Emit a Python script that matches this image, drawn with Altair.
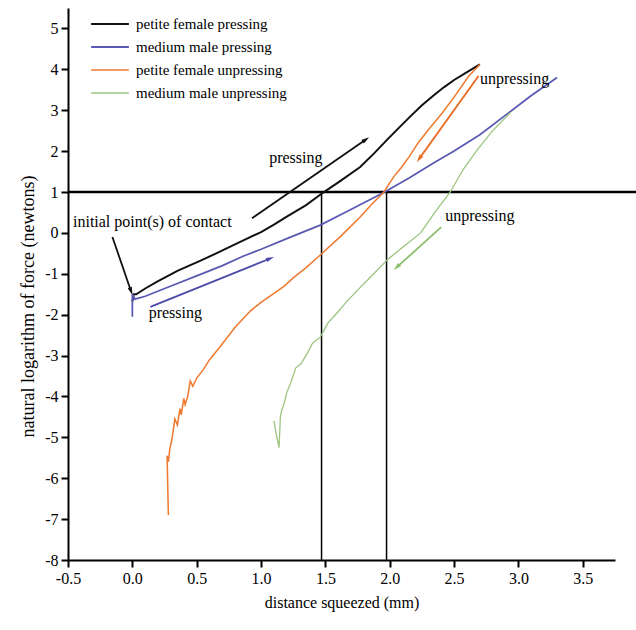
import math
import altair as alt
import pandas as pd

# ---------------- data ----------------
series_names = ["petite female pressing", "medium male pressing",
                "petite female unpressing", "medium male unpressing"]
series_colors = ["#111111", "#5a5ab4", "#ee7a30", "#9cc47e"]
series_widths = [2.0, 1.3, 1.4, 1.2]

pf_press_x = [0.0, 0.01, 0.03, 0.1, 0.2, 0.35, 0.53, 0.68, 0.85, 1.0, 1.1, 1.2, 1.35, 1.48,
              1.62, 1.77, 1.88, 1.98, 2.08, 2.16, 2.25, 2.34, 2.42, 2.5, 2.6, 2.7]
pf_press_y = [-1.68, -1.5, -1.5, -1.36, -1.18, -0.93, -0.68, -0.46, -0.2, 0.02, 0.2, 0.4, 0.68, 0.98,
              1.28, 1.61, 1.95, 2.28, 2.6, 2.85, 3.12, 3.36, 3.56, 3.74, 3.93, 4.12]

mm_press_x = [0.0, 0.0, 0.02, 0.1, 0.3, 0.5, 0.7, 0.86, 1.0, 1.2, 1.46, 1.69, 1.95, 2.15,
              2.34, 2.5, 2.7, 2.9, 3.1, 3.3]
mm_press_y = [-2.05, -1.5, -1.62, -1.55, -1.3, -1.05, -0.8, -0.57, -0.4, -0.14, 0.19, 0.56, 0.98, 1.34,
              1.71, 2.0, 2.4, 2.88, 3.36, 3.8]

pf_unpress_x = [2.70, 2.61, 2.50, 2.40, 2.30, 2.22, 2.15, 2.09, 2.03, 1.95, 1.86, 1.77, 1.62, 1.46,
                1.35, 1.25, 1.18, 1.0, 0.92, 0.8, 0.68, 0.6, 0.55, 0.5, 0.47, 0.45, 0.43, 0.41,
                0.40, 0.38, 0.37, 0.35, 0.33, 0.31, 0.29, 0.28, 0.27, 0.275, 0.28]
pf_unpress_y = [4.12, 3.82, 3.32, 2.9, 2.52, 2.2, 1.86, 1.6, 1.37, 0.98, 0.7, 0.39, -0.08, -0.54,
                -0.85, -1.1, -1.3, -1.7, -1.9, -2.3, -2.79, -3.1, -3.35, -3.55, -3.75, -3.62, -4.0, -4.2,
                -4.05, -4.45, -4.3, -4.7, -4.55, -5.0, -5.3, -5.6, -5.45, -6.2, -6.9]

mm_unpress_x = [2.94, 2.80, 2.68, 2.57, 2.47, 2.35, 2.24, 2.10, 1.98, 1.86, 1.75, 1.66, 1.59,
                1.52, 1.46, 1.40, 1.36, 1.31, 1.27, 1.23, 1.20, 1.18, 1.16, 1.15, 1.14, 1.12, 1.10]
mm_unpress_y = [2.95, 2.5, 2.03, 1.55, 1.0, 0.5, 0.0, -0.35, -0.66, -1.05, -1.4, -1.7, -1.96,
                -2.2, -2.55, -2.7, -2.94, -3.2, -3.3, -3.67, -3.9, -4.16, -4.35, -4.5, -5.25, -4.95, -4.6]

ref_level = [1.0]
ref_x = [1.47, 1.975]

x_ticks = [-0.5, -0.25, 0.0, 0.25, 0.5, 0.75, 1.0, 1.25, 1.5, 1.75, 2.0, 2.25, 2.5, 2.75,
           3.0, 3.25, 3.5, 3.75]
y_ticks = [-8, -7.5, -7, -6.5, -6, -5.5, -5, -4.5, -4, -3.5, -3, -2.5, -2, -1.5, -1, -0.5,
           0, 0.5, 1, 1.5, 2, 2.5, 3, 3.5, 4, 4.5, 5, 5.5]

arrow_x0 = [-0.155, 0.93, 0.14, 2.69, 2.40]
arrow_y0 = [-0.10, 0.36, -1.81, 3.84, 0.14]
arrow_x1 = [0.0, 1.84, 1.10, 2.21, 2.03]
arrow_y1 = [-1.52, 2.34, -0.59, 1.73, -0.91]
arrow_colors = ["#111111", "#111111", "#4a4aa8", "#e8702a", "#8cc070"]

note_text = ["pressing", "initial point(s) of contact", "pressing", "unpressing", "unpressing"]
note_x = [1.27, 0.155, 0.334, 2.97, 2.70]
note_y = [1.83, 0.27, -1.96, 3.76, 0.41]

# ---------------- layout ----------------
W, H = 547, 552
XMIN, XMAX = -0.5, 3.75
YMIN, YMAX = -8.0, 5.5
FONT = "'Liberation Serif', 'Times New Roman', Times, serif"

rows = []
for name, xs, ys in [(series_names[0], pf_press_x, pf_press_y),
                     (series_names[1], mm_press_x, mm_press_y),
                     (series_names[2], pf_unpress_x, pf_unpress_y),
                     (series_names[3], mm_unpress_x, mm_unpress_y)]:
    for i, (x, y) in enumerate(zip(xs, ys)):
        rows.append({"series": name, "x": x, "y": y, "idx": i})
df = pd.DataFrame(rows)

x_scale = alt.Scale(domain=[XMIN, XMAX], nice=False, zero=False)
y_scale = alt.Scale(domain=[YMIN, YMAX], nice=False, zero=False)

x_axis = alt.Axis(
    values=x_ticks, grid=False, title="distance squeezed (mm)",
    labelExpr="datum.value % 0.5 === 0 ? replace(format(datum.value, '.1f'), '\u2212', '-') : ''",
    tickSize={"condition": {"test": "datum.value % 0.5 === 0", "value": 7}, "value": 4},
    tickWidth=2, tickColor="black", domainColor="black", domainWidth=2,
    labelFont=FONT, labelFontSize=16, labelColor="black", labelPadding=3,
    titleFont=FONT, titleFontSize=16, titleFontWeight="normal", titleColor="black",
    titlePadding=8, labelFlush=False, labelOverlap=False,
)
y_axis = alt.Axis(
    values=y_ticks, grid=False, title="natural logarithm of force (newtons)",
    labelExpr="datum.value % 1 === 0 ? replace(format(datum.value, 'd'), '\u2212', '-') : ''",
    tickSize={"condition": {"test": "datum.value % 1 === 0", "value": 7}, "value": 4},
    tickWidth=2, tickColor="black", domainColor="black", domainWidth=2,
    labelFont=FONT, labelFontSize=16, labelColor="black", labelPadding=3,
    titleFont=FONT, titleFontSize=18, titleFontWeight="normal", titleColor="black",
    titlePadding=7, labelFlush=False, labelOverlap=False, titleY=298,
)

legend = alt.Legend(
    title=None, orient="none", legendX=32, legendY=6,
    symbolType="M-2.1,0L2.1,0", symbolSize=324, symbolStrokeWidth=1.5,
    labelFont=FONT, labelFontSize=15, labelColor="black", labelOffset=16,
    rowPadding=5, padding=0,
)

lines = alt.Chart(df).mark_line().encode(
    x=alt.X("x:Q", scale=x_scale, axis=x_axis),
    y=alt.Y("y:Q", scale=y_scale, axis=y_axis),
    color=alt.Color("series:N", scale=alt.Scale(domain=series_names, range=series_colors),
                    legend=legend),
    strokeWidth=alt.StrokeWidth("series:N",
                                scale=alt.Scale(domain=series_names, range=series_widths),
                                legend=None),
    order=alt.Order("idx:Q"),
)

hline = alt.Chart(pd.DataFrame({"y": ref_level})).mark_rule(
    color="black", strokeWidth=2.5).encode(
    y=alt.Y("y:Q", scale=y_scale), x=alt.value(0), x2=alt.value(W + 21))

vdf = pd.DataFrame({"x": ref_x, "y": [ref_level[0]] * len(ref_x), "y2": [YMIN] * len(ref_x)})
vlines = alt.Chart(vdf).mark_rule(color="black", strokeWidth=1.5).encode(
    x=alt.X("x:Q", scale=x_scale), y=alt.Y("y:Q", scale=y_scale), y2="y2:Q")

# arrows
px_x = W / (XMAX - XMIN)
px_y = H / (YMAX - YMIN)
arows = []
for x0, y0, x1, y1, c in zip(arrow_x0, arrow_y0, arrow_x1, arrow_y1, arrow_colors):
    dx = (x1 - x0) * px_x
    dy = -(y1 - y0) * px_y
    L = math.hypot(dx, dy)
    ang = math.degrees(math.atan2(dx, -dy)) % 360
    back = 4.0
    hx = x1 - dx / L * back / px_x
    hy = y1 + dy / L * back / px_y
    arows.append({"x0": x0, "y0": y0, "x1": x1, "y1": y1, "hx": hx, "hy": hy,
                  "ang": ang, "c": c})
adf = pd.DataFrame(arows)

shafts = alt.Chart(adf).mark_rule(strokeWidth=1.8).encode(
    x=alt.X("x0:Q", scale=x_scale), y=alt.Y("y0:Q", scale=y_scale),
    x2="hx:Q", y2="hy:Q", color=alt.Color("c:N", scale=None))
heads = alt.Chart(adf).mark_point(
    shape="M0,-1L0.55,1L-0.55,1Z", filled=True, size=64, opacity=1).encode(
    x=alt.X("hx:Q", scale=x_scale), y=alt.Y("hy:Q", scale=y_scale),
    angle=alt.Angle("ang:Q", scale=None), color=alt.Color("c:N", scale=None))

tdf = pd.DataFrame({"t": note_text, "x": note_x, "y": note_y})
notes = alt.Chart(tdf).mark_text(
    font=FONT, fontSize=16, color="black", align="center", baseline="middle").encode(
    x=alt.X("x:Q", scale=x_scale), y=alt.Y("y:Q", scale=y_scale), text="t:N")

chart = alt.layer(hline, vlines, lines, shafts, heads, notes).properties(
    width=W, height=H,
    autosize=alt.AutoSizeParams(type="none"),
    padding={"left": 68, "top": 8, "right": 21, "bottom": 70},
    background="white",
).configure_view(stroke=None)

chart.save("out.html", embed_options={"renderer": "svg", "actions": False})
